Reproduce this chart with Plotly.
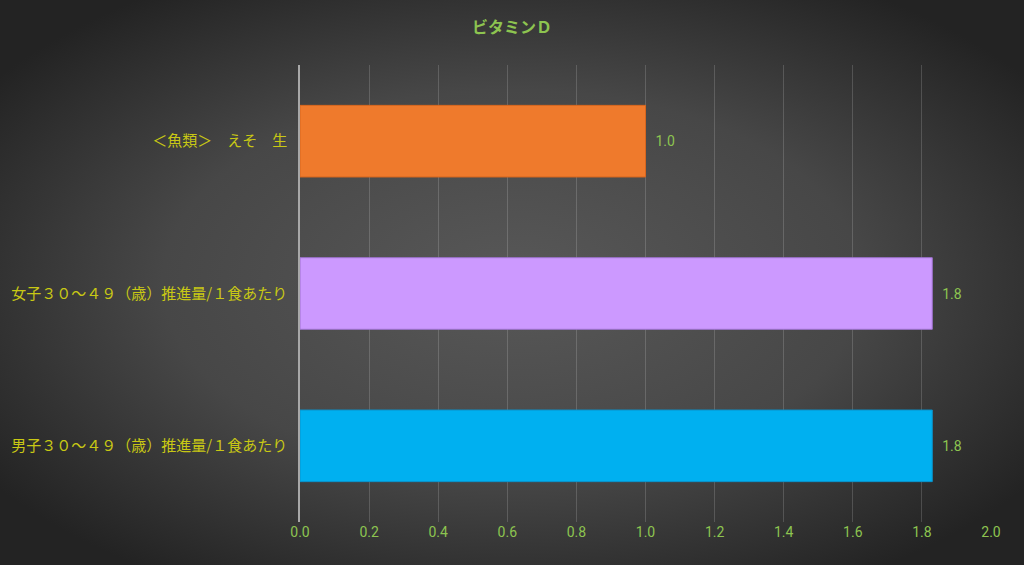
import base64
import plotly.graph_objects as go

# ビタミンD (µg)
categories = ['＜魚類＞　えそ　生',
              '女子３０～４９（歳）推進量/１食あたり',
              '男子３０～４９（歳）推進量/１食あたり']
values = [1.0, 1.83, 1.83]
bar_colors = ['#EF7A2C', '#CC99FF', '#00B0F0']
line_colors = ['#D8661E', '#9F73D0', '#0A93CB']
x_ticks = [0.0, 0.2, 0.4, 0.6, 0.8, 1.0, 1.2, 1.4, 1.6, 1.8, 2.0]

W, H = 1024, 565
L, R, T, B = 300, 33, 65, 43
pw, ph = W - L - R, H - T - B

# radial gradient background, done as an svg image behind everything
svg = ('<svg xmlns="http://www.w3.org/2000/svg" width="1024" height="565">'
       '<defs><radialGradient id="g" cx="50%" cy="50%" r="62%">'
       '<stop offset="0" stop-color="#585858"/>'
       '<stop offset="0.55" stop-color="#474747"/>'
       '<stop offset="1" stop-color="#232323"/>'
       '</radialGradient></defs>'
       '<rect width="1024" height="565" fill="url(#g)"/></svg>')
bg_src = 'data:image/svg+xml;base64,' + base64.b64encode(svg.encode()).decode()

num_font = 'Liberation Sans Narrow, Roboto, Noto Sans'

fig = go.Figure()
fig.add_trace(go.Bar(
    y=categories, x=values, orientation='h',
    marker=dict(color=bar_colors, line=dict(color=line_colors, width=1)),
    text=values, texttemplate='  %{x:.1f}', textposition='outside',
    textfont=dict(color='#8DC450', size=14, family=num_font),
    cliponaxis=False, hoverinfo='skip',
))

fig.update_layout(
    width=W, height=H,
    margin=dict(l=L, r=R, t=T, b=B),
    paper_bgcolor='#3a3a3a', plot_bgcolor='rgba(0,0,0,0)',
    showlegend=False, bargap=0.53,
    title=dict(text='<b>ビタミンＤ</b>', x=0.5, xref='container', xanchor='center',
               y=1 - 27 / H, yref='container', yanchor='middle',
               font=dict(color='#8DC450', size=16, family='Noto Sans CJK JP')),
    images=[dict(source=bg_src, xref='paper', yref='paper',
                 x=-L / pw, y=1 + T / ph, sizex=W / pw, sizey=H / ph,
                 xanchor='left', yanchor='top', sizing='stretch', layer='below')],
    font=dict(family='Noto Sans CJK JP'),
)
fig.update_xaxes(
    range=[0, 2.0], tickvals=x_ticks, ticktext=[f'{v:.1f}' for v in x_ticks],
    showgrid=True, gridcolor='rgba(255,255,255,0.16)', gridwidth=1,
    zeroline=False, showline=False, ticks='',
    tickfont=dict(color='#8DC450', size=14, family=num_font),
    fixedrange=True,
)
fig.update_yaxes(
    autorange='reversed', showgrid=False, ticks='',
    showline=True, linecolor='#A8A8A8', linewidth=1.5,
    tickfont=dict(color='#C8C814', size=15, family='Noto Sans CJK JP'),
    ticklabelstandoff=8, fixedrange=True,
)

fig.write_html('out.html', config={'displayModeBar': False},
               post_script="document.body.style.margin='0';document.body.style.overflow='hidden';")
